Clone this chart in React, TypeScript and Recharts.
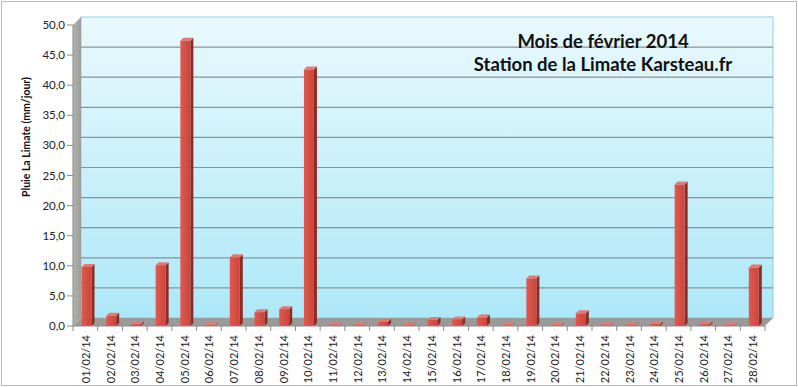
import React from 'react';
import { BarChart, Bar, XAxis, YAxis, ReferenceArea } from 'recharts';

const dates = [
  '01/02/14', '02/02/14', '03/02/14', '04/02/14', '05/02/14', '06/02/14', '07/02/14',
  '08/02/14', '09/02/14', '10/02/14', '11/02/14', '12/02/14', '13/02/14', '14/02/14',
  '15/02/14', '16/02/14', '17/02/14', '18/02/14', '19/02/14', '20/02/14', '21/02/14',
  '22/02/14', '23/02/14', '24/02/14', '25/02/14', '26/02/14', '27/02/14', '28/02/14',
];
const rain = [
  9.8, 1.7, 0.3, 10.1, 47.4, 0.1, 11.4,
  2.3, 2.8, 42.6, 0.1, 0.1, 0.7, 0.1,
  1.0, 1.1, 1.4, 0.1, 7.9, 0.1, 2.1,
  0.1, 0.1, 0.3, 23.5, 0.3, 0.1, 9.7,
];
const yTicks = [0, 5, 10, 15, 20, 25, 30, 35, 40, 45, 50];
const titleLines = ['Mois de février 2014', 'Station de la Limate Karsteau.fr'];
const yLabel = 'Pluie La Limate (mm/jour)';

const data = dates.map((d, i) => ({ date: d, rain: rain[i] }));

const W = 798;
const H = 387;
const DEPTH = 8;
const BAR_DEPTH = 3;
const FONT = 'Lato, "Open Sans", "Liberation Sans", sans-serif';

const Walls = (props: any) => {
  const { x, y, width, height } = props;
  const bottom = y + height;
  const right = x + width;
  const yMax = yTicks[yTicks.length - 1];
  const lines = yTicks.map((v) => y + height * (1 - v / yMax) - DEPTH);
  return (
    <g>
      <defs>
        <linearGradient id="wallGrad" x1="0" y1="0" x2="0" y2="1">
          <stop offset="0%" stopColor="#e8f9fd" />
          <stop offset="100%" stopColor="#aee8f8" />
        </linearGradient>
        <linearGradient id="leftGrad" x1="0" y1="0" x2="1" y2="0">
          <stop offset="0%" stopColor="#b2b3ae" />
          <stop offset="100%" stopColor="#9c9d98" />
        </linearGradient>
      </defs>
      <rect x={x + DEPTH} y={y - DEPTH} width={width} height={height} fill="url(#wallGrad)" stroke="#86d4e4" strokeWidth={1} />
      {lines.slice(1, -1).map((ly, i) => (
        <line key={i} x1={x + DEPTH} x2={right + DEPTH} y1={ly} y2={ly} stroke="#8c9193" strokeWidth={1.2} />
      ))}
      <polygon
        points={`${x},${y} ${x + DEPTH},${y - DEPTH} ${x + DEPTH},${bottom - DEPTH} ${x},${bottom}`}
        fill="url(#leftGrad)"
      />
      <polygon
        points={`${x},${bottom} ${x + DEPTH},${bottom - DEPTH} ${right + DEPTH},${bottom - DEPTH} ${right},${bottom}`}
        fill="#9a9b98"
      />
    </g>
  );
};

const Bar3D = (props: any) => {
  const { x, y, width, height } = props;
  if (x == null || y == null) return null;
  const bx = x + 1.5;
  const d = BAR_DEPTH;
  const h = Math.max(height, 0.5);
  const top = y + height - h;
  return (
    <g>
      <defs>
        <linearGradient id="barFront" x1="0" y1="0" x2="1" y2="0">
          <stop offset="0%" stopColor="#e2584e" />
          <stop offset="100%" stopColor="#c9463d" />
        </linearGradient>
      </defs>
      <polygon
        points={`${bx + width},${top} ${bx + width + d},${top - d} ${bx + width + d},${top + h - d} ${bx + width},${top + h}`}
        fill="#8e2a24"
      />
      <polygon
        points={`${bx},${top} ${bx + d},${top - d} ${bx + width + d},${top - d} ${bx + width},${top}`}
        fill="#e8786e"
      />
      <rect x={bx} y={top} width={width} height={h} fill="url(#barFront)" />
    </g>
  );
};

const XTick = (props: any) => {
  const { x, y, payload, index } = props;
  const bw = (W - 73 - 33) / dates.length;
  const axisY = y - 8;
  return (
    <g>
      <line x1={x + bw / 2} x2={x + bw / 2} y1={axisY} y2={axisY + 5} stroke="#8a8a8a" />
      {index === 0 && <line x1={x - bw / 2} x2={x - bw / 2} y1={axisY} y2={axisY + 5} stroke="#8a8a8a" />}
      <text
        transform={`translate(${x + 4.5},${y + 1}) rotate(-90)`}
        textAnchor="end"
        fontSize={11}
        fontFamily={FONT}
        fill="#222"
      >
        {payload.value}
      </text>
    </g>
  );
};

const fmt = (v: number) => v.toFixed(1).replace('.', ',');

export default function App() {
  return (
    <div style={{ position: 'absolute', left: 0, top: 0, width: W, height: H, background: '#fff' }}>
      <div
        style={{
          position: 'absolute', left: 1, top: 1, width: W - 4, height: H - 4,
          border: '1px solid #b9b9b9', pointerEvents: 'none',
        }}
      />
      <BarChart
        width={W}
        height={H}
        data={data}
        margin={{ top: 25, right: 33, left: 0, bottom: 0 }}
        barSize={10}
      >
        <ReferenceArea y1={0} y2={50} shape={<Walls />} ifOverflow="visible" />
        <XAxis
          dataKey="date"
          interval={0}
          height={61}
          tickSize={0}
          tickMargin={8}
          tick={<XTick />}
          axisLine={{ stroke: '#8a8a8a' }}
          tickLine={false}
        />
        <YAxis
          width={73}
          domain={[0, 50]}
          ticks={yTicks}
          tickFormatter={fmt}
          tick={{ fontSize: 11.5, fontFamily: FONT, fill: '#222' }}
          tickSize={6}
          tickMargin={2}
          axisLine={{ stroke: '#8a8a8a' }}
          tickLine={{ stroke: '#8a8a8a' }}
        />
        <Bar dataKey="rain" shape={<Bar3D />} isAnimationActive={false} />
      </BarChart>
      <div
        style={{
          position: 'absolute', left: 403, width: 400, top: 30, textAlign: 'center',
          fontFamily: FONT, fontWeight: 700, fontSize: 18.5, lineHeight: '23px', color: '#111',
        }}
      >
        {titleLines.map((t) => (
          <div key={t}>{t}</div>
        ))}
      </div>
      <div
        style={{
          position: 'absolute', left: 26, top: 137, width: 0, height: 0,
        }}
      >
        <div
          style={{
            position: 'absolute', left: 0, top: 0, transform: 'translate(-50%, -50%) rotate(-90deg)',
            whiteSpace: 'nowrap', fontFamily: FONT, fontWeight: 700, fontSize: 10.5, color: '#111',
          }}
        >
          {yLabel}
        </div>
      </div>
    </div>
  );
}
